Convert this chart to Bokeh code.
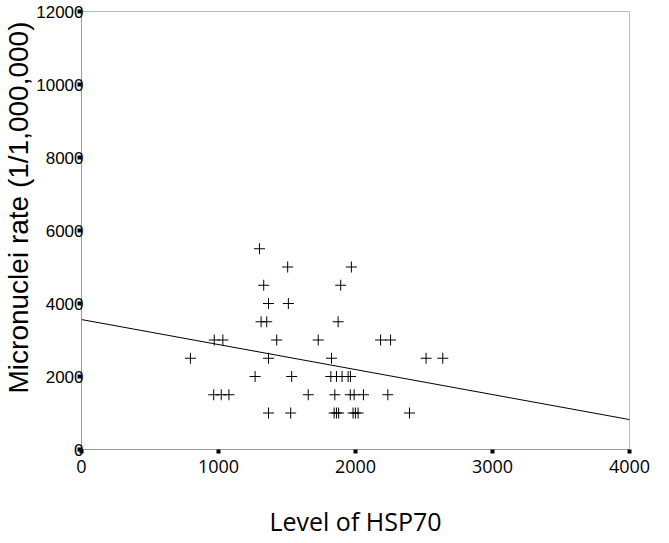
import math
from bokeh.plotting import figure
from bokeh.models import Range1d, FixedTicker, Title, ColumnDataSource
from bokeh.embed import file_html
from bokeh.resources import INLINE

# HSP70 level (x) and micronuclei rate (y)
hsp70 = [1299, 1505, 1330, 1365, 1510, 1311, 1352, 1425, 969, 1032,
         795, 1365, 1267, 1534, 965, 1020, 1076, 1365, 1527,
         1970, 1892, 1873, 1728, 2183, 2256, 1825, 2515, 2637,
         1820, 1861, 1902, 1946, 1963,
         1655, 1849, 1962, 1990, 2058, 2236,
         1844, 1861, 1877, 1982, 1999, 2019, 2394]
micronuclei = [5500, 5000, 4500, 4000, 4000, 3500, 3500, 3000, 3000, 3000,
               2500, 2500, 2000, 2000, 1500, 1500, 1500, 1000, 1000,
               5000, 4500, 3500, 3000, 3000, 3000, 2500, 2500, 2500,
               2000, 2000, 2000, 2000, 2000,
               1500, 1500, 1500, 1500, 1500, 1500,
               1000, 1000, 1000, 1000, 1000, 1000, 1000]

# fitted regression line end points
fit_x = [0, 4000]
fit_y = [3560, 820]

x_ticks = [0, 1000, 2000, 3000, 4000]
y_ticks = [0, 2000, 4000, 6000, 8000, 10000, 12000]

p = figure(width=661, height=540, output_backend="svg", toolbar_location=None,
           x_range=Range1d(0, 4000), y_range=Range1d(0, 12000),
           min_border_left=81, min_border_right=32, min_border_top=11,
           min_border_bottom=88)
p.background_fill_color = "white"
p.border_fill_color = "white"
p.grid.visible = False
p.outline_line_color = "#777777"
p.outline_line_dash = "1 1"
p.outline_line_width = 1

p.xaxis.ticker = FixedTicker(ticks=x_ticks)
p.yaxis.ticker = FixedTicker(ticks=y_ticks)
for ax in (p.xaxis, p.yaxis):
    ax.axis_line_color = "#777777"
    ax.axis_line_dash = "1 1"
    ax.major_tick_line_color = "black"
    ax.major_tick_line_width = 4
    ax.major_tick_out = 4
    ax.major_tick_in = 0
    ax.minor_tick_line_color = None
    ax.major_label_text_color = "black"

p.xaxis.major_label_text_font = "Open Sans"
p.xaxis.major_label_text_font_size = "18px"
p.xaxis.major_label_standoff = 6
p.xaxis.axis_label = "Level of HSP70"
p.xaxis.axis_label_text_font = "Open Sans"
p.xaxis.axis_label_text_font_size = "25px"
p.xaxis.axis_label_text_font_style = "normal"
p.xaxis.axis_label_text_color = "black"
p.xaxis.axis_label_standoff = 28

p.yaxis.major_label_text_font = "Liberation Sans"
p.yaxis.major_label_text_font_size = "17px"
p.yaxis.major_label_standoff = -6

p.add_layout(Title(text="Micronuclei rate (1/1,000,000)", align="right",
                   offset=10, standoff=0, text_font="Liberation Sans",
                   text_font_size="28px", text_font_style="normal",
                   text_color="black"), "left")

p.line(fit_x, fit_y, line_color="black", line_width=1)
src = ColumnDataSource(dict(x=hsp70, y=micronuclei))
p.scatter("x", "y", source=src, marker="cross", size=11, line_color="black",
          line_width=1)

open("out.html", "w").write(file_html(p, INLINE))
